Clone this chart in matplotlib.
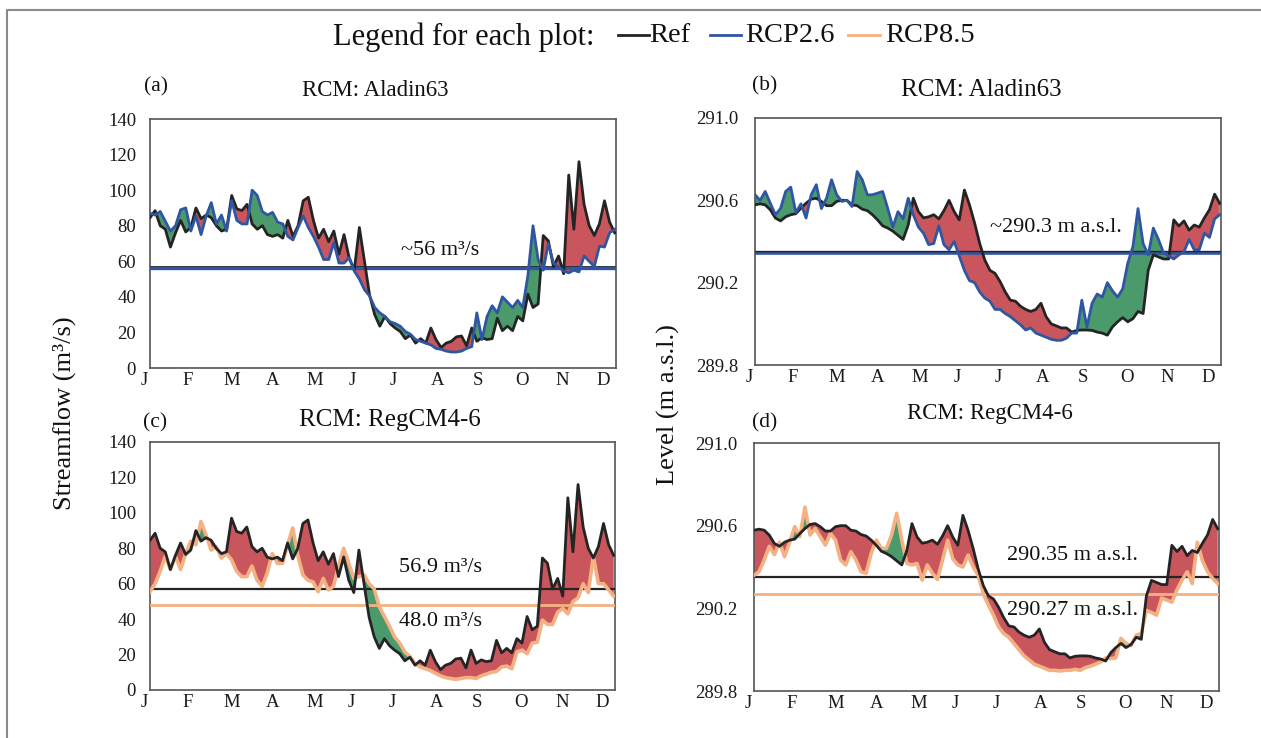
import numpy as np
import matplotlib
matplotlib.use("Agg")
import matplotlib.pyplot as plt
from matplotlib.lines import Line2D
from matplotlib.transforms import ScaledTranslation

plt.rcParams['font.family'] = ['Liberation Serif', 'DejaVu Serif']

W, H = 1261, 738

months = ['J', 'F', 'M', 'A', 'M', 'J', 'J', 'A', 'S', 'O', 'N', 'D']
month_ticks = [0, 34.5, 69, 101, 134, 163, 195, 230, 261.5, 296, 328, 360]
days = [4 * i for i in range(92)]

flow_ref = [84.5, 88.5, 80, 78, 68, 76, 83, 76.5, 79, 90, 84, 86, 84.5, 80, 77, 78,
            97, 89.5, 88.5, 92, 81, 78, 80, 75, 74, 75, 73, 83, 74, 80, 94, 96,
            83, 73, 78, 71, 77, 64, 75, 62, 55, 79, 60, 41, 30, 23.5, 29, 25, 22.5, 20.5,
            16.5, 18.5, 14, 16.5, 14, 22.5, 16, 11.5, 14, 15, 17.5, 18, 12.5, 22.5, 15, 17,
            16, 16.5, 28, 21, 23.5, 21, 29, 26.5, 41.5, 34, 36, 74.5, 71.5, 57, 63, 53,
            108.5, 78, 116, 92, 80, 74.5, 81, 94, 82, 76]
flow_rcp26 = [87, 86, 88, 82.5, 77, 80, 89, 90, 77, 85.5, 75, 85.5, 93, 81, 86, 77,
              94, 83, 81, 81, 100, 97, 88, 86, 87.5, 82, 81, 74, 72, 79, 85.5, 79,
              74, 68, 61, 61, 70.5, 59, 59, 62, 54.5, 50, 44, 40.5, 34, 31, 29, 26, 25, 23.5,
              20.5, 19, 16, 15, 14, 13, 11, 10.5, 9.5, 9, 9, 9.5, 11, 12, 31, 16,
              29, 35, 31, 40, 37, 34, 38, 34, 52, 80, 61, 55, 70, 59, 57, 54.5,
              53.5, 55, 54, 63, 60, 57, 68.5, 68, 76, 78]
flow_rcp85 = [55.5, 60, 67, 75.5, 68, 75.5, 68, 77, 84, 82, 95, 87.5, 79, 81, 74.5, 77,
              73.5, 67, 64, 64, 70, 62, 58.5, 66, 77, 71.5, 71.5, 82, 91.5, 76, 65, 62,
              61, 55.5, 63, 56.5, 58.5, 70, 80, 71.5, 63, 64, 65, 60, 57, 47, 41.5, 36, 30, 26.5,
              21.5, 19, 15, 13, 12, 11, 9.5, 8, 7, 6.5, 6, 6.5, 7, 7, 6.5, 8,
              9, 10, 10.5, 13, 13.5, 12, 21.5, 22.5, 20.5, 26.5, 27, 39.5, 37, 37, 44, 46,
              43, 50, 52, 60, 55, 75.5, 60, 60, 56.5, 53]

level_ref = [290.578, 290.583, 290.578, 290.554, 290.514, 290.50, 290.52, 290.53, 290.535, 290.562,
             290.586, 290.606, 290.61, 290.595, 290.574, 290.574, 290.595, 290.60, 290.60, 290.578,
             290.574, 290.557, 290.55, 290.53, 290.505, 290.476, 290.465, 290.45, 290.43, 290.41,
             290.48, 290.61, 290.545, 290.515, 290.52, 290.53, 290.51, 290.55, 290.60, 290.545,
             290.505, 290.65, 290.578, 290.49, 290.39, 290.31, 290.26, 290.245, 290.205, 290.155,
             290.115, 290.11, 290.085, 290.07, 290.06, 290.07, 290.10, 290.035, 290.00, 289.99,
             289.98, 289.98, 289.96, 289.968, 289.97, 289.97, 289.968, 289.96, 289.955, 289.945,
             289.985, 290.01, 290.03, 290.01, 290.025, 290.06, 290.05, 290.26, 290.335, 290.325,
             290.315, 290.315, 290.505, 290.475, 290.50, 290.455, 290.48, 290.47, 290.515, 290.555,
             290.63, 290.585]
level_rcp26 = [290.627, 290.60, 290.643, 290.586, 290.53, 290.56, 290.643, 290.664, 290.54, 290.583,
               290.514, 290.627, 290.676, 290.56, 290.61, 290.70, 290.627, 290.595, 290.60, 290.57,
               290.74, 290.70, 290.627, 290.627, 290.635, 290.643, 290.56, 290.47, 290.545, 290.51,
               290.61, 290.53, 290.47, 290.44, 290.385, 290.39, 290.476, 290.385, 290.36, 290.40,
               290.33, 290.26, 290.21, 290.20, 290.155, 290.125, 290.11, 290.07, 290.07, 290.05,
               290.035, 290.015, 289.995, 289.97, 289.98, 289.955, 289.945, 289.935, 289.925, 289.92,
               289.92, 289.93, 289.955, 289.955, 290.115, 289.985, 290.10, 290.145, 290.13, 290.20,
               290.16, 290.13, 290.17, 290.295, 290.375, 290.56, 290.39, 290.335, 290.465, 290.41,
               290.345, 290.33, 290.315, 290.335, 290.35, 290.41, 290.36, 290.36, 290.44, 290.42,
               290.51, 290.53]
level_rcp85 = [290.36, 290.377, 290.434, 290.50, 290.46, 290.52, 290.45, 290.52, 290.595, 290.547,
               290.69, 290.555, 290.587, 290.547, 290.506, 290.563, 290.53, 290.434, 290.41, 290.474,
               290.434, 290.377, 290.37, 290.466, 290.53, 290.49, 290.49, 290.555, 290.66, 290.53,
               290.417, 290.41, 290.417, 290.337, 290.41, 290.37, 290.34, 290.434, 290.53, 290.44,
               290.41, 290.40, 290.458, 290.40, 290.36, 290.27, 290.215, 290.167, 290.11, 290.078,
               290.06, 290.03, 290.0, 289.97, 289.95, 289.93, 289.92, 289.91, 289.90, 289.90,
               289.897, 289.90, 289.90, 289.905, 289.90, 289.913, 289.92, 289.93, 289.94, 289.96,
               289.957, 289.96, 290.055, 290.03, 290.02, 290.07, 290.078, 290.19, 290.18, 290.167,
               290.25, 290.24, 290.23, 290.29, 290.337, 290.377, 290.32, 290.52, 290.43, 290.377,
               290.345, 290.32]

mean_flow_ref, mean_flow_26, mean_flow_85 = 56.9, 56.0, 48.0
mean_level_ref, mean_level_26, mean_level_85 = 290.35, 290.343, 290.27

BLACK, BLUE, ORANGE = '#242424', '#2f56a3', '#f4b183'
GREEN, RED = '#4a9a6c', '#c9565c'
SPINE = '#555555'

fig = plt.figure(figsize=(W / 100, H / 100), dpi=100)


def px_axes(l, t, r, b):
    return fig.add_axes([l / W, 1 - b / H, (r - l) / W, (b - t) / H])


def fpos(x, y):
    return x / W, 1 - y / H


def panel(box, ref, scen, scen_col, m_ref, m_scen, ylim, yticks, yfmt, lw_scen, lw_mean, ypad):
    ax = px_axes(*box)
    d = np.array(days, float)
    r, s = np.array(ref), np.array(scen)
    ax.fill_between(d, r, s, where=r >= s, interpolate=True, color=RED, lw=0, zorder=1)
    ax.fill_between(d, r, s, where=s >= r, interpolate=True, color=GREEN, lw=0, zorder=1)
    ax.axhline(m_ref, color=BLACK, lw=lw_mean[0], zorder=3)
    ax.axhline(m_scen, color=scen_col, lw=lw_mean[1], zorder=3)
    if scen_col == BLUE:
        ax.plot(d, r, color=BLACK, lw=2.0, zorder=4, solid_joinstyle='round')
        ax.plot(d, s, color=scen_col, lw=lw_scen, zorder=5, solid_joinstyle='round')
    else:
        ax.plot(d, s, color=scen_col, lw=lw_scen, zorder=4, solid_joinstyle='round')
        ax.plot(d, r, color=BLACK, lw=2.0, zorder=5, solid_joinstyle='round')
    ax.set_xlim(0, 365)
    ax.set_ylim(*ylim)
    ax.set_yticks(yticks)
    ax.set_yticklabels([yfmt.format(v) for v in yticks])
    ax.set_xticks(month_ticks)
    ax.set_xticklabels(months)
    ax.tick_params(axis='both', length=0, labelsize=13.5, colors='#1a1a1a')
    ax.tick_params(axis='y', pad=ypad)
    ax.tick_params(axis='x', pad=3)
    shift = ScaledTranslation(-6 / 100, 0, fig.dpi_scale_trans)
    for lab in ax.get_xticklabels():
        lab.set_transform(lab.get_transform() + shift)
    for sp in ax.spines.values():
        sp.set_color(SPINE)
        sp.set_linewidth(1.2)
    return ax


flow_ticks = [0, 20, 40, 60, 80, 100, 120, 140]
level_ticks = [289.8, 290.2, 290.6, 291.0]

ax_a = panel((150, 119, 616, 368), flow_ref, flow_rcp26, BLUE, mean_flow_ref, mean_flow_26,
             (0, 140), flow_ticks, '{:d}', 2.0, (2.0, 2.4), 10)
ax_b = panel((755, 118, 1221, 365), level_ref, level_rcp26, BLUE, mean_level_ref, mean_level_26,
             (289.8, 291.0), level_ticks, '{:.1f}', 2.0, (2.4, 1.8), 12)
ax_c = panel((150, 442, 615, 690), flow_ref, flow_rcp85, ORANGE, mean_flow_ref, mean_flow_85,
             (0, 140), flow_ticks, '{:d}', 2.6, (1.6, 2.0), 10)
ax_d = panel((754, 443, 1219, 691), level_ref, level_rcp85, ORANGE, mean_level_ref, mean_level_85,
             (289.8, 291.0), level_ticks, '{:.1f}', 2.6, (1.6, 2.0), 12)

# annotations
kw = dict(ha='center', va='center', fontsize=16, color='#111111', zorder=6)
ax_a.text(227, 66, '~56 m³/s', **kw)
ax_b.text(236, 290.47, '~290.3 m a.s.l.', **kw)
ax_c.text(228, 69.4, '56.9 m³/s', **kw)
ax_c.text(228, 38.4, '48.0 m³/s', **kw)
ax_d.text(250, 290.458, '290.35 m a.s.l.', **kw)
ax_d.text(250, 290.19, '290.27 m a.s.l.', **kw)

# titles and panel letters
for x, y, s, fs in [(375, 90, 'RCM: Aladin63', 16.5), (981, 90, 'RCM: Aladin63', 18),
                    (390, 420, 'RCM: RegCM4-6', 18), (990, 413, 'RCM: RegCM4-6', 16.5)]:
    fig.text(*fpos(x, y), s, ha='center', va='center', fontsize=fs, color='#111111')
for x, y, s in [(156, 87, '(a)'), (765, 86, '(b)'), (155, 423, '(c)'), (765, 423, '(d)')]:
    fig.text(*fpos(x, y), s, ha='center', va='center', fontsize=15.5, color='#111111')

# y labels
fig.text(*fpos(64, 413), 'Streamflow (m³/s)', rotation=90, ha='center', va='center',
         fontsize=19, color='#111111')
fig.text(*fpos(668, 405), 'Level (m a.s.l.)', rotation=90, ha='center', va='center',
         fontsize=19, color='#111111')

# shared legend
fig.text(*fpos(464, 37), 'Legend for each plot:', ha='center', va='center', fontsize=22, color='#111111')
for x0, x1, col, tx, s in [(618, 649, BLACK, 649, 'Ref'), (710, 741, BLUE, 745, 'RCP2.6'),
                           (848, 880, ORANGE, 885, 'RCP8.5')]:
    fig.add_artist(Line2D([x0 / W, x1 / W], [1 - 35 / H] * 2, color=col, lw=2.0))
    fig.text(*fpos(tx, 35), s, ha='left', va='center', fontsize=20.5, color='#111111')

# outer frame (left and top only, as in the source image)
fig.add_artist(Line2D([7 / W, 7 / W, 1], [0, 1 - 10 / H, 1 - 10 / H], color='#8a8a8a', lw=1.5))

fig.savefig('out.png', dpi=100)
